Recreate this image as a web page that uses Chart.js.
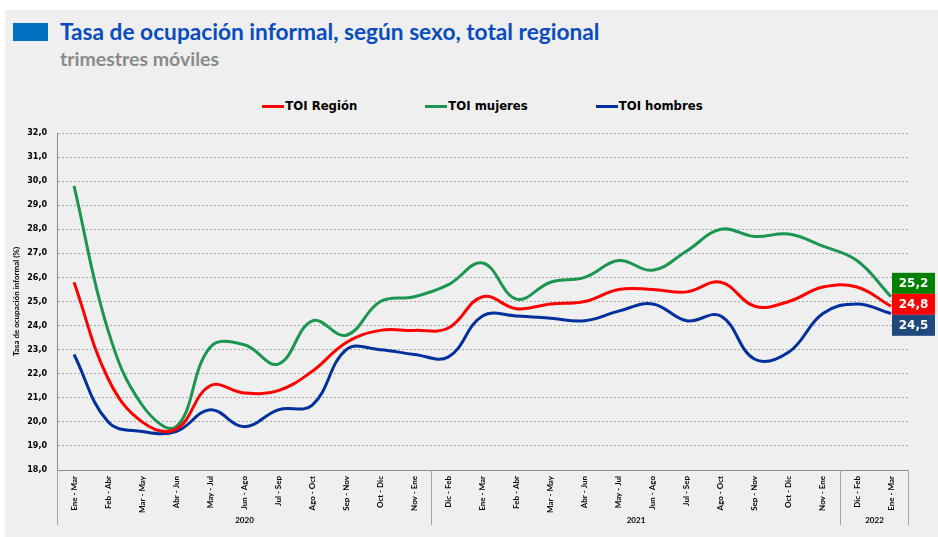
<!DOCTYPE html>
<html lang="es">
<head>
<meta charset="utf-8">
<script src="https://cdn.jsdelivr.net/npm/chart.js@4.4.1/dist/chart.umd.min.js"></script>
<style>
  body { margin: 0; width: 938px; height: 537px; overflow: hidden; background: #fff; position: relative; }
  #panel { position: absolute; left: 5px; top: 10px; width: 933px; height: 527px; background: #efefef; }
  #mark { position: absolute; left: 13px; top: 23px; width: 35px; height: 18px; background: #0070c0; }
  #title { position: absolute; left: 60px; top: 18px; font: bold 22.7px Lato, sans-serif; color: #0a4cbf; white-space: nowrap; }
  #subtitle { position: absolute; left: 60px; top: 47px; font: bold 19.5px Lato, sans-serif; color: #8a8a8a; white-space: nowrap; }
  #legend { position: absolute; left: 57px; width: 851px; top: 99px; display: flex; justify-content: center; gap: 68px;
            font: bold 11.7px "DejaVu Sans", sans-serif; color: #000; }
  #legend .item { display: flex; align-items: center; }
  #legend .swatch { width: 22px; height: 3px; margin-right: 1px; }
  #chart { position: absolute; left: 0; top: 0; }
</style>
</head>
<body>
<div id="panel"></div>
<div id="mark"></div>
<div id="title">Tasa de ocupación informal, según sexo, total regional</div>
<div id="subtitle">trimestres móviles</div>
<div id="legend"></div>
<canvas id="chart" width="938" height="537"></canvas>
<script>
// Trimestres móviles (eje X)
const periodos = [
  'Ene - Mar', 'Feb - Abr', 'Mar - May', 'Abr - Jun', 'May - Jul', 'Jun - Ago',
  'Jul - Sep', 'Ago - Oct', 'Sep - Nov', 'Oct - Dic', 'Nov - Ene',
  'Dic - Feb', 'Ene - Mar', 'Feb - Abr', 'Mar - May', 'Abr - Jun', 'May - Jul',
  'Jun - Ago', 'Jul - Sep', 'Ago - Oct', 'Sep - Nov', 'Oct - Dic', 'Nov - Ene',
  'Dic - Feb', 'Ene - Mar'
];

// Años y cuántos trimestres caen en cada uno
const anios = ['2020', '2021', '2022'];
const trimestresPorAnio = [11, 12, 2];

// Series (%)
const toiRegion = [25.8, 21.8, 20.0, 19.7, 21.5, 21.2, 21.3, 22.1, 23.3, 23.8, 23.8,
  23.9, 25.2, 24.7, 24.9, 25.0, 25.5, 25.5, 25.4, 25.8, 24.8, 25.0, 25.6, 25.6, 24.8];
const toiMujeres = [29.8, 23.8, 20.7, 19.8, 23.1, 23.2, 22.4, 24.2, 23.6, 25.0, 25.2,
  25.7, 26.6, 25.1, 25.8, 26.0, 26.7, 26.3, 27.1, 28.0, 27.7, 27.8, 27.3, 26.7, 25.2];
const toiHombres = [22.8, 20.0, 19.6, 19.6, 20.5, 19.8, 20.5, 20.7, 23.0, 23.0, 22.8,
  22.7, 24.4, 24.4, 24.3, 24.2, 24.6, 24.9, 24.2, 24.4, 22.6, 22.9, 24.5, 24.9, 24.5];

const nombresSeries = ['TOI Región', 'TOI mujeres', 'TOI hombres'];
const coloresLinea = ['#ff0000', '#1b9650', '#00309c'];
const coloresEtiqueta = ['#ff0000', '#008000', '#1f497d'];

const fmt = v => v.toFixed(1).replace('.', ',');

// Leyenda en HTML
const legend = document.getElementById('legend');
nombresSeries.forEach((n, i) => {
  legend.innerHTML += `<div class="item"><div class="swatch" style="background:${coloresLinea[i]}"></div>${n}</div>`;
});

// Separadores y etiquetas de año bajo el eje X
const yearGroupsPlugin = {
  id: 'yearGroups',
  afterDraw(chart) {
    const { ctx, chartArea, scales: { x } } = chart;
    const half = (x.getPixelForValue(1) - x.getPixelForValue(0)) / 2;
    const top = chartArea.bottom;
    const bottom = chartArea.bottom + 55;
    ctx.save();
    ctx.strokeStyle = '#a6a6a6';
    ctx.lineWidth = 1;
    ctx.fillStyle = '#000';
    ctx.font = 'bold 8px Lato, sans-serif';
    ctx.textAlign = 'center';
    ctx.textBaseline = 'middle';
    let start = 0;
    anios.forEach((anio, g) => {
      const end = start + trimestresPorAnio[g] - 1;
      const left = Math.round(x.getPixelForValue(start) - half) + 0.5;
      const right = Math.round(x.getPixelForValue(end) + half) + 0.5;
      ctx.beginPath();
      ctx.moveTo(left, top); ctx.lineTo(left, bottom);
      if (g === anios.length - 1) { ctx.moveTo(right, top); ctx.lineTo(right, bottom); }
      ctx.stroke();
      ctx.fillText(anio, (left + right) / 2, chartArea.bottom + 50);
      start = end + 1;
    });
    ctx.restore();
  }
};

// Recuadros con el último valor de cada serie
const endLabelsPlugin = {
  id: 'endLabels',
  afterDatasetsDraw(chart) {
    const { ctx } = chart;
    const orden = [1, 0, 2]; // arriba: mujeres, medio: región, abajo: hombres
    const h = 21, w = 43;
    const midMeta = chart.getDatasetMeta(0);
    const lastMid = midMeta.data[midMeta.data.length - 1];
    const x0 = lastMid.x + 1;
    const yMid = lastMid.y - 2 - h / 2;
    ctx.save();
    ctx.font = 'bold 12px "DejaVu Sans", sans-serif';
    ctx.textAlign = 'center';
    ctx.textBaseline = 'middle';
    orden.forEach((di, k) => {
      const ds = chart.data.datasets[di];
      const y = yMid + (k - 1) * h;
      ctx.fillStyle = coloresEtiqueta[di];
      ctx.fillRect(x0, y, w, h);
      ctx.fillStyle = '#fff';
      ctx.fillText(fmt(ds.data[ds.data.length - 1]), x0 + w / 2, y + h / 2 + 1);
    });
    ctx.restore();
  }
};

const series = [toiRegion, toiMujeres, toiHombres];
const ctx = document.getElementById('chart').getContext('2d');
const chart = new Chart(ctx, {
  type: 'line',
  data: {
    labels: periodos,
    datasets: series.map((d, i) => ({
      label: nombresSeries[i],
      data: d,
      borderColor: coloresLinea[i],
      borderWidth: 3,
      pointRadius: 0,
      tension: 0.4,
      fill: false
    }))
  },
  options: {
    responsive: false,
    animation: false,
    layout: { padding: { top: 133, right: 30, left: 0, bottom: 0 } },
    plugins: {
      legend: { display: false },
      tooltip: { enabled: false }
    },
    scales: {
      x: {
        offset: true,
        grid: { display: false, drawTicks: false },
        border: { color: '#8c8c8c', width: 1 },
        ticks: {
          autoSkip: false,
          minRotation: 90,
          maxRotation: 90,
          padding: 6,
          color: '#000',
          font: { family: 'Lato, sans-serif', size: 8, weight: 'bold' }
        },
        afterFit: s => { s.height = 67; }
      },
      y: {
        min: 18,
        max: 32,
        grid: { color: '#a8a8a8', drawTicks: false },
        border: { color: '#8c8c8c', dash: [2, 2] },
        ticks: {
          stepSize: 1,
          padding: 10,
          color: '#000',
          font: { family: '"DejaVu Sans", sans-serif', size: 8, weight: 'bold' },
          callback: v => fmt(v)
        },
        title: {
          display: true,
          text: 'Tasa de ocupación informal (%)',
          color: '#000',
          font: { family: 'Lato, sans-serif', size: 8, weight: 'bold' },
          padding: { top: 12, bottom: 0 }
        },
        afterFit: s => { s.width = 57; }
      }
    }
  },
  plugins: [yearGroupsPlugin, endLabelsPlugin]
});
</script>
</body>
</html>
